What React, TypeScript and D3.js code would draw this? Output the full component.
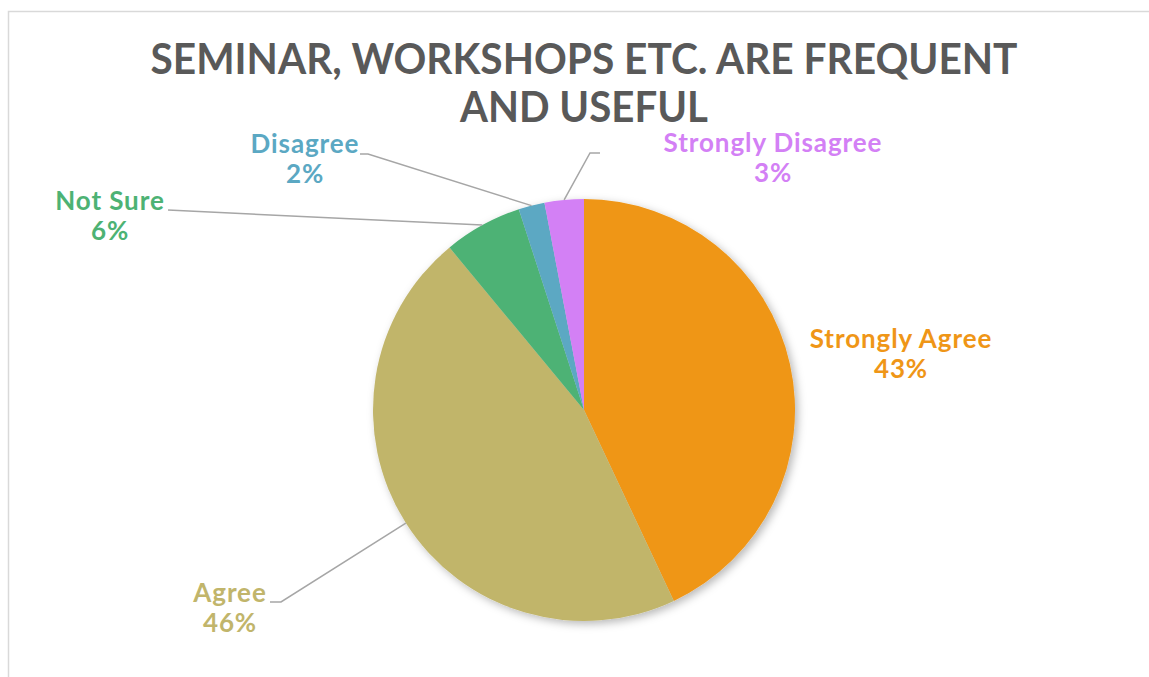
import React from "react";
import * as d3 from "d3";

const categories = ["Strongly Agree", "Agree", "Not Sure", "Disagree", "Strongly Disagree"];
const values = [43, 46, 6, 2, 3];
const colors = ["#EF9617", "#C1B56B", "#4DB274", "#5BA8C3", "#D380F5"];
const titleLines = ["SEMINAR, WORKSHOPS ETC. ARE FREQUENT", "AND USEFUL"];

// layout: label anchor (center of text block) and leader-line end per slice
const labelLayout = [
  { x: 901, y: 348, line: null as null | { ex: number; ey: number; hx: number } },
  { x: 230, y: 602, line: { ex: 281, ey: 602, hx: 270 } },
  { x: 110, y: 210, line: { ex: 168, ey: 210, hx: 168 } },
  { x: 305, y: 153, line: { ex: 368, ey: 154, hx: 360 } },
  { x: 773, y: 152, line: { ex: 590, ey: 153, hx: 600 } },
];

const W = 1149;
const H = 677;
const cx = 584;
const cy = 410;
const R = 211;
const font = "Lato, 'Open Sans', sans-serif";

export default function App() {
  const pie = d3.pie<number>().sort(null).value((d) => d);
  const arcs = pie(values);
  const arcGen = d3.arc<d3.PieArcDatum<number>>().innerRadius(0).outerRadius(R);
  const total = d3.sum(values);

  return (
    <svg
      width={W}
      height={H}
      style={{ position: "absolute", left: 0, top: 0, background: "#fff" }}
    >
      <defs>
        <filter id="sh" x="-20%" y="-20%" width="140%" height="140%">
          <feDropShadow dx="3" dy="3" stdDeviation="4" floodColor="#000" floodOpacity="0.28" />
        </filter>
      </defs>
      <rect x={8.5} y={11.5} width={W + 20} height={H + 20} fill="#fff" stroke="#d9d9d9" strokeWidth={1.5} />
      <text
        x={584}
        y={74}
        textAnchor="middle"
        fontFamily={font}
        fontWeight="bold"
        fontSize={42}
        fill="#595959"
        textLength={867}
        lengthAdjust="spacingAndGlyphs"
      >
        {titleLines[0]}
      </text>
      <text
        x={584}
        y={122}
        textAnchor="middle"
        fontFamily={font}
        fontWeight="bold"
        fontSize={42}
        fill="#595959"
        textLength={248}
        lengthAdjust="spacingAndGlyphs"
      >
        {titleLines[1]}
      </text>
      <g transform={`translate(${cx},${cy})`} filter="url(#sh)">
        {arcs.map((a, i) => (
          <path key={i} d={arcGen(a) || ""} fill={colors[i]} />
        ))}
      </g>
      {arcs.map((a, i) => {
        const L = labelLayout[i];
        const mid = (a.startAngle + a.endAngle) / 2;
        const sx = cx + R * Math.sin(mid);
        const sy = cy - R * Math.cos(mid);
        const pct = Math.round((values[i] / total) * 100) + "%";
        return (
          <g key={i}>
            {L.line && (
              <polyline
                points={`${sx},${sy} ${L.line.ex},${L.line.ey} ${L.line.hx},${L.line.ey}`}
                fill="none"
                stroke="#a6a6a6"
                strokeWidth={1.5}
              />
            )}
            <text
              x={L.x}
              textAnchor="middle"
              fontFamily={font}
              fontWeight="bold"
              fontSize={26}
              letterSpacing={0.9}
              fill={colors[i]}
            >
              <tspan x={L.x} y={L.y}>{categories[i]}</tspan>
              <tspan x={L.x} y={L.y + 30}>{pct}</tspan>
            </text>
          </g>
        );
      })}
    </svg>
  );
}
